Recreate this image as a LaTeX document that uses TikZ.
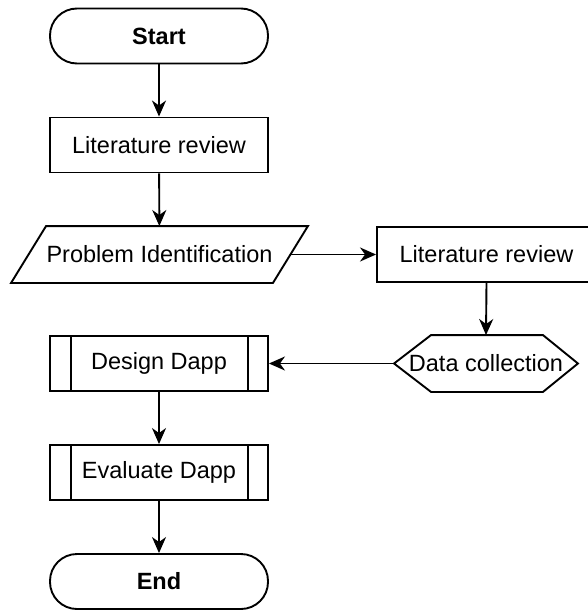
\documentclass[tikz,border=0pt]{standalone}
\usepackage{fontspec}
\setmainfont{Liberation Sans}
\usetikzlibrary{arrows.meta}
\begin{document}
\begin{tikzpicture}[x=1pt,y=-1pt,
  every node/.style={font=\fontsize{23.5}{28}\selectfont, line width=1.9pt, inner sep=0pt},
  box/.style={draw, rectangle, minimum width=218pt, minimum height=55pt},
  term/.style={box, rounded corners=27pt, font=\fontsize{23.5}{28}\selectfont\bfseries},
  ghost/.style={rectangle, minimum height=55pt},
  outline/.style={line width=1.9pt, line join=miter},
  flow/.style={line width=1.9pt, -{Stealth[length=16pt,width=14pt,inset=5pt]}}
]
\useasboundingbox (0,0) rectangle (587,610);
\node[term] (start) at (159,36) {Start};
\node[box] (lit1) at (159,145) {Literature review};
\node[ghost, minimum width=260pt] (prob) at (159.5,254.5) {Problem Identification};
\draw[outline] ([xshift=17.5pt]prob.north west) -- ([xshift=17.5pt]prob.north east)
  -- ([xshift=-17.5pt]prob.south east) -- ([xshift=-17.5pt]prob.south west) -- cycle;
\node[box, minimum width=219pt] (lit2) at (486.5,254.5) {Literature review};
\node[ghost, minimum width=182pt] (data) at (486,363.5) {Data collection};
\draw[outline] (data.west) -- ([xshift=37pt]data.north west) -- ([xshift=-35pt]data.north east) -- (data.east) -- ([xshift=-35pt]data.south east) -- ([xshift=37pt]data.south west) -- cycle;
\node[box] (design) at (159,363.5) {Design Dapp};
\draw[outline] ([xshift=22pt]design.north west) -- ([xshift=22pt]design.south west)
  ([xshift=-21pt]design.north east) -- ([xshift=-21pt]design.south east);
\node[box] (eval) at (159,472.5) {Evaluate Dapp};
\draw[outline] ([xshift=22pt]eval.north west) -- ([xshift=22pt]eval.south west)
  ([xshift=-21pt]eval.north east) -- ([xshift=-21pt]eval.south east);
\node[term] (end) at (159,581.5) {End};
\draw[flow] (start) -- (lit1);
\draw[flow] (lit1) -- (prob);
\draw[flow] (prob.east) -- (lit2.west);
\draw[flow] (lit2.south) -- (data.north);
\draw[flow] (data.west) -- (design.east);
\draw[flow] (design) -- (eval);
\draw[flow] (eval) -- (end);
\end{tikzpicture}
\end{document}
